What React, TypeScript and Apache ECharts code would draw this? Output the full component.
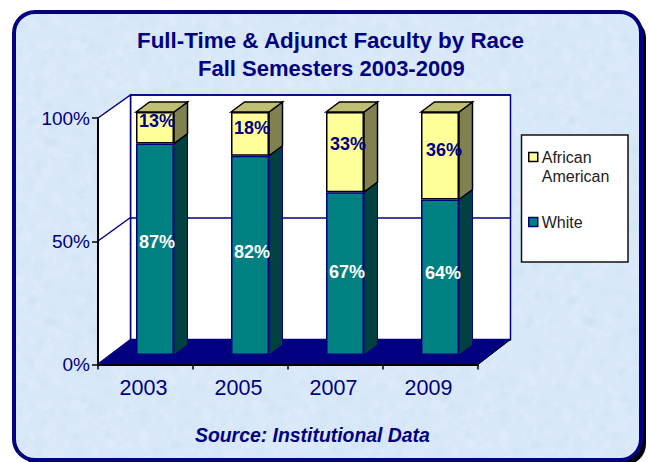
import React, { useEffect, useRef } from "react";
import * as echarts from "echarts";

const categories = ["2003", "2005", "2007", "2009"];
const whiteValues = [87, 82, 67, 64];
const africanAmericanValues = [13, 18, 33, 36];
const yTickValues = [0, 50, 100];
const titleLines = ["Full-Time & Adjunct Faculty by Race", "Fall Semesters 2003-2009"];
const sourceText = "Source: Institutional Data";

const NAVY = "#000080";
const FONT = '"Liberation Sans", Arial, sans-serif';
const BAR_W = 38;
const DEPTH_X = 13.5;
const DEPTH_Y = 10;
const whiteLabelShift = [[2, -7], [2, -3], [2, -2], [3, -4]];
const aaLabelShift = [[2, -7], [2, -6], [3, -8], [4, -6]];

function makeTexture(): string {
  const size = 180;
  const c = document.createElement("canvas");
  c.width = size;
  c.height = size;
  const ctx = c.getContext("2d")!;
  ctx.fillStyle = "#d8e8f8";
  ctx.fillRect(0, 0, size, size);
  let s = 12345;
  const next = () => {
    s = (s * 1103515245 + 12345) & 0x7fffffff;
    return s / 0x7fffffff;
  };
  for (let i = 0; i < 300; i++) {
    const x = next() * size;
    const y = next() * size;
    const r = 1.5 + next() * 4;
    const light = next() > 0.5;
    ctx.fillStyle = light ? "rgba(236,244,252,0.16)" : "rgba(200,220,242,0.14)";
    for (const ox of [-size, 0, size]) {
      for (const oy of [-size, 0, size]) {
        ctx.beginPath();
        ctx.arc(x + ox, y + oy, r, 0, Math.PI * 2);
        ctx.fill();
      }
    }
  }
  ctx.strokeStyle = "rgba(240,247,254,0.3)";
  ctx.lineWidth = 0.8;
  for (let i = 0; i < 220; i++) {
    const x = next() * size;
    const y = next() * size;
    ctx.beginPath();
    ctx.moveTo(x, y);
    ctx.lineTo(x + (next() - 0.5) * 22, y + (next() - 0.5) * 22);
    ctx.stroke();
  }
  return c.toDataURL();
}

function renderDepth(_: any, api: any) {
  const i = api.value(0);
  const low = api.coord([i, api.value(1)]);
  const high = api.coord([i, api.value(2)]);
  const isTop = api.value(3) === 1;
  const right = low[0] + BAR_W / 2;
  const left = low[0] - BAR_W / 2;
  const children: any[] = [
    {
      type: "polygon",
      shape: {
        points: [
          [right, low[1]],
          [right + DEPTH_X, low[1] - DEPTH_Y],
          [right + DEPTH_X, high[1] - DEPTH_Y],
          [right, high[1]],
        ],
      },
      style: isTop
        ? { fill: "#808050", stroke: "#000", lineWidth: 1.5 }
        : { fill: "#004040", stroke: NAVY, lineWidth: 1 },
    },
  ];
  if (isTop) {
    children.push({
      type: "polygon",
      shape: {
        points: [
          [left, high[1]],
          [left + DEPTH_X, high[1] - DEPTH_Y],
          [right + DEPTH_X, high[1] - DEPTH_Y],
          [right, high[1]],
        ],
      },
      style: { fill: "#BFBF73", stroke: "#000", lineWidth: 1.5 },
    });
  }
  return { type: "group", children };
}

export default function App() {
  const ref = useRef<HTMLDivElement>(null);
  useEffect(() => {
    const chart = echarts.init(ref.current!, undefined, { renderer: "svg" });
    const texture = makeTexture();
    const base = { silent: true };
    const whiteDepth = whiteValues.map((v, i) => [i, 0, v, 0]);
    const aaDepth = africanAmericanValues.map((v, i) => [i, whiteValues[i], whiteValues[i] + v, 1]);
    chart.setOption({
      animation: false,
      backgroundColor: "#ffffff",
      title: [
        { text: titleLines[0], left: 132, top: 24, textStyle: { fontFamily: FONT, fontSize: 22.4, fontWeight: "bold", color: NAVY } },
        { text: titleLines[1], left: 193, top: 52, textStyle: { fontFamily: FONT, fontSize: 22, fontWeight: "bold", color: NAVY } },
        { text: sourceText, left: 190, top: 420, textStyle: { fontFamily: FONT, fontSize: 19.4, fontWeight: "bold", fontStyle: "italic", color: NAVY } },
      ],
      graphic: {
        elements: [
          { type: "rect", ...base, z: -20, shape: { x: 19, y: 17, width: 627, height: 448, r: 21 }, style: { fill: "#000" } },
          {
            type: "rect", ...base, z: -19,
            shape: { x: 14, y: 12, width: 627, height: 448, r: 21 },
            style: { fill: { type: "pattern", image: texture, repeat: "repeat", imageWidth: 180, imageHeight: 180 } as any, stroke: NAVY, lineWidth: 4 },
          },
          {
            type: "polygon", ...base, z: -5,
            shape: { points: [[98, 118], [130.5, 95], [130.5, 339.5], [98, 364]] },
            style: { fill: "#fff", stroke: NAVY, lineWidth: 1.5 },
          },
          { type: "line", ...base, z: -4, shape: { x1: 98, y1: 241, x2: 130.5, y2: 217.5 }, style: { stroke: NAVY, lineWidth: 1.5 } },
          {
            type: "polygon", ...base, z: 1,
            shape: { points: [[98, 364.5], [478, 364.5], [510.5, 339.5], [130.5, 339.5]] },
            style: { fill: NAVY },
          },
          { type: "line", ...base, z: 1, shape: { x1: 478, y1: 364.5, x2: 510.5, y2: 339.5 }, style: { stroke: "#000", lineWidth: 1 } },
          { type: "rect", ...base, z: 1, shape: { x: 521.5, y: 135, width: 106.5, height: 127 }, style: { fill: "#fff", stroke: "#111", lineWidth: 1.5 } },
        ],
      },
      legend: {
        orient: "vertical",
        left: 528,
        top: 127.5,
        padding: 0,
        itemWidth: 9,
        itemHeight: 9,
        itemGap: 25,
        icon: "rect",
        data: [
          { name: "African American", itemStyle: { color: "#FFFF99", borderColor: "#000", borderWidth: 1.5 } },
          { name: "White", itemStyle: { color: "#008080", borderColor: NAVY, borderWidth: 1.5 } },
        ],
        formatter: (n: string) => (n === "African American" ? "\nAfrican\nAmerican" : n),
        textStyle: { fontFamily: FONT, fontSize: 16, color: "#222", lineHeight: 19, padding: [2, 0, 0, -1] },
      },
      grid: [
        { left: 98, top: 118, width: 380, height: 246.5 },
        { left: 107.5, top: 112, width: 380, height: 243 },
        { left: 130.5, top: 95, width: 380, height: 244.5, show: true, backgroundColor: "#fff", borderColor: NAVY, borderWidth: 1.5, z: -6 },
      ],
      xAxis: [
        {
          type: "category", gridIndex: 0, data: categories, z: 3,
          axisLine: { lineStyle: { color: "#000", width: 2 } },
          axisTick: { show: true, length: 5, lineStyle: { color: "#000", width: 1.5 } },
          axisLabel: { fontFamily: FONT, fontSize: 21.5, color: NAVY, margin: 12, padding: [0, 4, 0, 0] },
        },
        { type: "category", gridIndex: 1, data: categories, show: false },
        { type: "category", gridIndex: 2, data: categories, show: false },
      ],
      yAxis: [
        {
          type: "value", gridIndex: 0, min: 0, max: 100, interval: 50, z: 3,
          axisLine: { show: true, lineStyle: { color: "#000", width: 2 } },
          axisTick: { show: true, length: 6, lineStyle: { color: "#000", width: 1.5 } },
          splitLine: { show: false },
          axisLabel: { fontFamily: FONT, fontSize: 19, color: NAVY, margin: 8, formatter: (v: number) => (yTickValues.includes(v) ? `${v}%` : "") },
        },
        { type: "value", gridIndex: 1, min: 0, max: 100, interval: 50, show: false, splitLine: { show: false } },
        {
          type: "value", gridIndex: 2, min: 0, max: 100, interval: 50, z: -3,
          axisLine: { show: false }, axisTick: { show: false }, axisLabel: { show: false },
          splitLine: { show: true, lineStyle: { color: NAVY, width: 1.5 } },
        },
      ],
      series: [
        {
          name: "depth-white", type: "custom", xAxisIndex: 1, yAxisIndex: 1, data: whiteDepth,
          renderItem: renderDepth, encode: { x: 0, y: [1, 2] }, z: 2, silent: true,
        },
        {
          name: "depth-aa", type: "custom", xAxisIndex: 1, yAxisIndex: 1, data: aaDepth,
          renderItem: renderDepth, encode: { x: 0, y: [1, 2] }, z: 2, silent: true,
        },
        {
          name: "White", type: "bar", stack: "race", xAxisIndex: 1, yAxisIndex: 1, barWidth: BAR_W, z: 3,
          itemStyle: { color: "#008080", borderColor: NAVY, borderWidth: 1.5 },
          data: whiteValues.map((v, i) => ({ value: v, label: { offset: whiteLabelShift[i] } })),
          label: { show: true, position: "inside", formatter: "{c}%", fontFamily: FONT, fontSize: 18, fontWeight: "bold", color: "#fff" },
        },
        {
          name: "African American", type: "bar", stack: "race", xAxisIndex: 1, yAxisIndex: 1, barWidth: BAR_W, z: 3,
          itemStyle: { color: "#FFFF99", borderColor: "#000", borderWidth: 1.5 },
          data: africanAmericanValues.map((v, i) => ({ value: v, label: { offset: aaLabelShift[i] } })),
          label: { show: true, position: "inside", formatter: "{c}%", fontFamily: FONT, fontSize: 18, fontWeight: "bold", color: NAVY },
        },
      ],
    });
    return () => chart.dispose();
  }, []);
  return <div ref={ref} style={{ position: "fixed", left: 0, top: 0, width: 649, height: 462 }} />;
}
